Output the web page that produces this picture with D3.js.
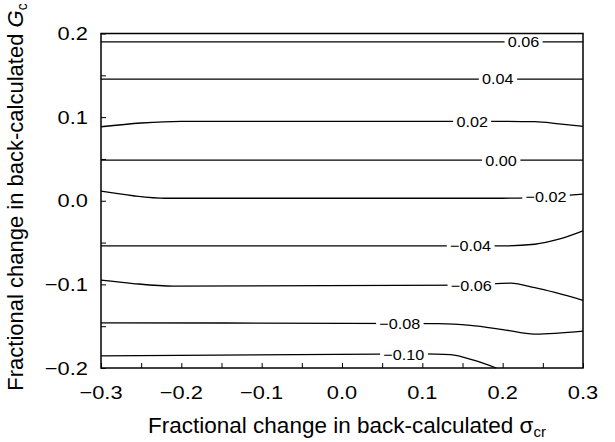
<!DOCTYPE html>
<html lang="en">
<head>
    <meta charset="UTF-8">
    <title>Contour chart</title>
    <script src="https://d3js.org/d3.v7.min.js"></script>
    <style>
        body { margin: 0; padding: 0; background: #fff; }
        svg { font-family: 'Liberation Sans', Arial, sans-serif; }
    </style>
</head>
<body>
    <script>
        // Datos: niveles de contorno y puntos (x, y)
        const levels = ["0.06", "0.04", "0.02", "0.00", "\u22120.02", "\u22120.04", "\u22120.06", "\u22120.08", "\u22120.10"];

        const c006 = [[-0.3, 0.190], [0.3, 0.190]];
        const c004 = [[-0.3, 0.1455], [0.3, 0.1455]];
        const c002 = [[-0.3, 0.0885], [-0.25, 0.093], [-0.2, 0.095], [0.2, 0.095], [0.24, 0.0945], [0.27, 0.092], [0.3, 0.089]];
        const c000 = [[-0.3, 0.0485], [0.3, 0.0485]];
        const cm002 = [[-0.3, 0.0115], [-0.26, 0.006], [-0.22, 0.003], [0.2, 0.003], [0.26, 0.005], [0.3, 0.008]];
        const cm004 = [[-0.3, -0.054], [0.2, -0.054], [0.24, -0.052], [0.27, -0.046], [0.3, -0.036]];
        const cm006 = [[-0.3, -0.095], [-0.26, -0.099], [-0.21, -0.102], [0.16, -0.101], [0.21, -0.0985], [0.24, -0.104], [0.3, -0.119]];
        const cm008 = [[-0.3, -0.146], [0.12, -0.147], [0.16, -0.149], [0.2, -0.154], [0.24, -0.1595], [0.3, -0.156]];
        const cm010 = [[-0.3, -0.1855], [0.1, -0.183], [0.135, -0.184], [0.165, -0.191], [0.192, -0.2]];

        // posicion de cada etiqueta (x, y en unidades de datos)
        const labelPos = [[0.226, 0.190], [0.194, 0.1455], [0.162, 0.095], [0.198, 0.0485], [0.254, 0.005],
                          [0.160, -0.054], [0.161, -0.101], [0.072, -0.147], [0.077, -0.1845]];

        const xTicks = [-0.3, -0.2, -0.1, 0.0, 0.1, 0.2, 0.3];
        const yTicks = [-0.2, -0.1, 0.0, 0.1, 0.2];

        const contours = [c006, c004, c002, c000, cm002, cm004, cm006, cm008, cm010];

        // Configuracion del SVG
        const width = 615, height = 442;
        const margin = { top: 33.5, right: 32, bottom: 74, left: 101 };

        const svg = d3.select("body").append("svg")
            .attr("width", width)
            .attr("height", height);

        const x = d3.scaleLinear().domain([-0.3, 0.3]).range([margin.left, width - margin.right]);
        const y = d3.scaleLinear().domain([-0.2, 0.2]).range([height - margin.bottom, margin.top]);

        const fmt = d => d === 0 ? "0.0" : d3.format(".1f")(d).replace("-", "\u2212");

        // texto algo ensanchado como en la figura original
        function wideText(sel, px, py, anchor, size, sx) {
            const g = sel.append("g").attr("transform", d => `translate(${px(d)},${py(d)}) scale(${sx},1)`);
            return g.append("text")
                .attr("text-anchor", anchor)
                .attr("font-size", size + "px");
        }

        // Ejes con marcas hacia dentro
        svg.append("g")
            .attr("transform", `translate(0,${height - margin.bottom})`)
            .call(d3.axisBottom(x).ticks(12).tickSizeInner(-5).tickSizeOuter(0).tickFormat(""))
            .call(g => g.select(".domain").remove())
            .call(g => g.selectAll("line").attr("stroke", "#000").attr("stroke-width", 1));

        svg.append("g")
            .attr("transform", `translate(${margin.left},0)`)
            .call(d3.axisLeft(y).ticks(8).tickSizeInner(-5).tickSizeOuter(0).tickFormat(""))
            .call(g => g.select(".domain").remove())
            .call(g => g.selectAll("line").attr("stroke", "#000").attr("stroke-width", 1));

        // Etiquetas de las marcas
        const xl = svg.append("g").selectAll("g").data(xTicks).enter();
        wideText(xl, d => x(d), () => height - margin.bottom + 31, "middle", 19, 1.15).text(fmt);

        const yl = svg.append("g").selectAll("g").data(yTicks).enter();
        wideText(yl, () => margin.left - 13, d => y(d) + 6.5, "end", 19, 1.15).text(fmt);

        // Lineas de contorno
        const line = d3.line()
            .x(d => x(d[0]))
            .y(d => y(d[1]))
            .curve(d3.curveMonotoneX);

        svg.append("g").selectAll("path")
            .data(contours).enter().append("path")
            .attr("d", line)
            .attr("fill", "none")
            .attr("stroke", "#000")
            .attr("stroke-width", 1.3);

        // Etiquetas de contorno con fondo blanco
        const lab = svg.append("g").selectAll("g")
            .data(levels).enter().append("g")
            .attr("transform", (d, i) => `translate(${x(labelPos[i][0])},${y(labelPos[i][1])}) scale(1.08,1)`);

        lab.append("rect").attr("fill", "#fff");
        lab.append("text")
            .attr("dy", "0.36em")
            .attr("text-anchor", "middle")
            .attr("font-size", "15px")
            .text(d => d);

        lab.each(function () {
            const t = d3.select(this).select("text").node().getBBox();
            d3.select(this).select("rect")
                .attr("x", t.x - 3).attr("y", t.y + 2)
                .attr("width", t.width + 6).attr("height", t.height - 4);
        });

        // Marco
        svg.append("rect")
            .attr("x", margin.left).attr("y", margin.top)
            .attr("width", width - margin.left - margin.right)
            .attr("height", height - margin.top - margin.bottom)
            .attr("fill", "none")
            .attr("stroke", "#000")
            .attr("stroke-width", 1.5);

        // Titulos de los ejes
        const xt = svg.append("text")
            .attr("x", 347)
            .attr("y", 433)
            .attr("text-anchor", "middle")
            .attr("font-size", "22.5px");
        xt.append("tspan").text("Fractional change in back-calculated \u03c3");
        xt.append("tspan").attr("font-size", "15px").attr("dy", 4).text("cr");

        const yt = svg.append("text")
            .attr("transform", "translate(23,197) rotate(-90)")
            .attr("text-anchor", "middle")
            .attr("font-size", "22px");
        yt.append("tspan").text("Fractional change in back-calculated ");
        yt.append("tspan").attr("font-style", "italic").text("G");
        yt.append("tspan").attr("font-size", "14px").attr("dy", 4).text("c");
    </script>
</body>
</html>
